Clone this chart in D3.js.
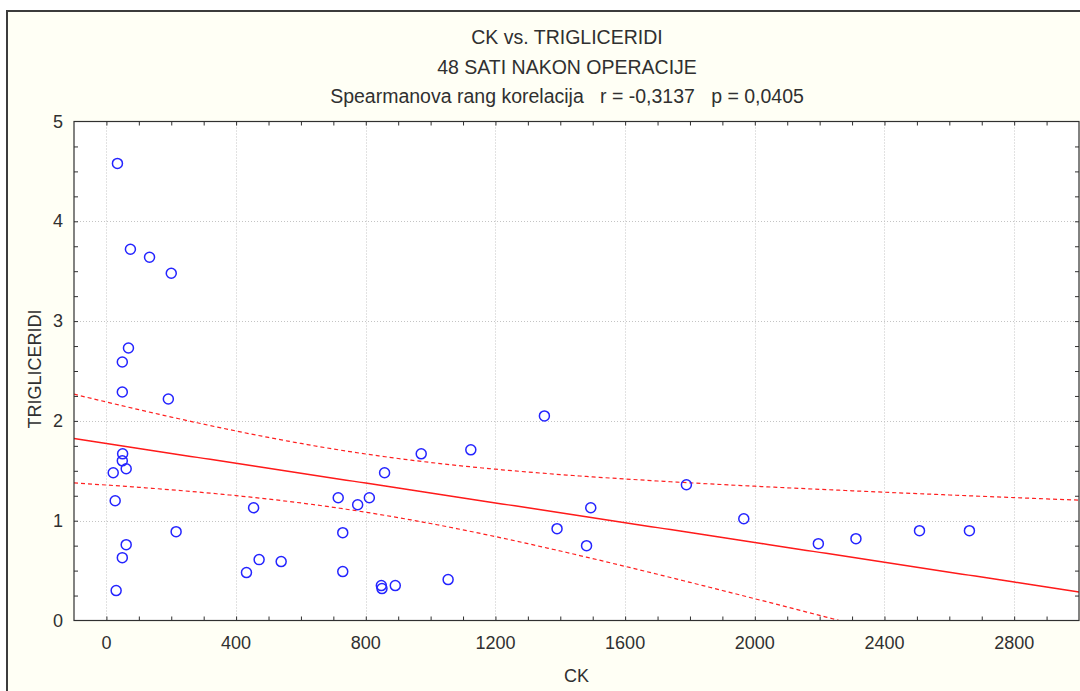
<!DOCTYPE html>
<html>
<head>
<meta charset="utf-8">
<script src="https://cdn.jsdelivr.net/npm/d3@7/dist/d3.min.js"></script>
<style>
  html, body { margin: 0; padding: 0; background: #ffffff; }
  svg text { font-family: "Liberation Sans", Arial, sans-serif; fill: #303030; }
  .title { white-space: pre; }
</style>
</head>
<body>
<svg id="chart" width="1080" height="691"></svg>
<script>
// Titles
const titleLines = [
  "CK vs. TRIGLICERIDI",
  "48 SATI NAKON OPERACIJE",
  "Spearmanova rang korelacija   r = -0,3137   p = 0,0405"
];
const xLabel = "CK";
const yLabel = "TRIGLICERIDI";

// Observations (CK, triglyceride level)
const ck = [
  34, 74, 133, 200, 68, 49, 49, 191, 50, 49, 61, 21, 27, 215, 61, 49, 30,
  454, 432, 471, 539,
  715, 775, 811, 858, 971, 1124, 1351, 729, 729, 848, 850, 891, 1054,
  1390, 1481, 1494, 1789,
  1966, 2196, 2312, 2508, 2662
];
const trig = [
  4.58, 3.72, 3.64, 3.48, 2.73, 2.59, 2.29, 2.22, 1.67, 1.60, 1.52, 1.48, 1.20, 0.89, 0.76, 0.63, 0.30,
  1.13, 0.48, 0.61, 0.59,
  1.23, 1.16, 1.23, 1.48, 1.67, 1.71, 2.05, 0.88, 0.49, 0.35, 0.32, 0.35, 0.41,
  0.92, 0.75, 1.13, 1.36,
  1.02, 0.77, 0.82, 0.90, 0.90
];

// Axis settings
const xDomain = [-100, 3000];
const yDomain = [0, 5];
const xTickValues = [0, 400, 800, 1200, 1600, 2000, 2400, 2800];
const yTickValues = [0, 1, 2, 3, 4, 5];
const xMinorStep = 100;
const yMinorStep = 0.25;
const tCrit = 2.0195; // Student t, 0.975, df = 41

const svg = d3.select("#chart");
const W = 1080, H = 691;
const plot = { left: 74, right: 1079, top: 121.5, bottom: 620.5 };

// Outer panel
svg.append("rect").attr("x", 0).attr("y", 0).attr("width", W).attr("height", H).attr("fill", "#ffffff");
svg.append("rect")
  .attr("x", 7).attr("y", 11).attr("width", W + 20).attr("height", H + 20)
  .attr("fill", "#fffff5").attr("stroke", "#3c3c3c").attr("stroke-width", 2);

const x = d3.scaleLinear().domain(xDomain).range([plot.left, plot.right]);
const y = d3.scaleLinear().domain(yDomain).range([plot.bottom, plot.top]);

// Plot area
svg.append("rect")
  .attr("x", plot.left).attr("y", plot.top)
  .attr("width", plot.right - plot.left).attr("height", plot.bottom - plot.top)
  .attr("fill", "#ffffff");

svg.append("clipPath").attr("id", "clip").append("rect")
  .attr("x", plot.left).attr("y", plot.top)
  .attr("width", plot.right - plot.left).attr("height", plot.bottom - plot.top);

// Dotted grid
const grid = svg.append("g").attr("stroke", "#c4c4c4").attr("stroke-width", 1).attr("stroke-dasharray", "1,2");
grid.selectAll(".gx").data(xTickValues).join("line")
  .attr("x1", d => Math.round(x(d)) + 0.5).attr("x2", d => Math.round(x(d)) + 0.5)
  .attr("y1", plot.top).attr("y2", plot.bottom);
grid.selectAll(".gy").data(yTickValues.filter(v => v > yDomain[0] && v < yDomain[1])).join("line")
  .attr("y1", d => Math.round(y(d)) + 0.5).attr("y2", d => Math.round(y(d)) + 0.5)
  .attr("x1", plot.left).attr("x2", plot.right);

// Ticks on all four sides, pointing inward
const xMinor = d3.range(0, xDomain[1] + 1, xMinorStep).filter(v => v > xDomain[0] && v < xDomain[1]);
const yMinor = d3.range(yDomain[0], yDomain[1] + 1e-9, yMinorStep).filter(v => v > yDomain[0] && v < yDomain[1]);
const tickLen = 4;

const xAxisBottom = d3.axisBottom(x).tickValues(xMinor).tickSize(-tickLen).tickFormat("");
const xAxisTop = d3.axisTop(x).tickValues(xMinor).tickSize(-tickLen).tickFormat("");
const yAxisLeft = d3.axisLeft(y).tickValues(yMinor).tickSize(-tickLen).tickFormat("");
const yAxisRight = d3.axisRight(y).tickValues(yMinor).tickSize(-tickLen).tickFormat("");

function styleAxis(g) {
  g.select(".domain").remove();
  g.selectAll(".tick line").attr("stroke", "#303030");
}
svg.append("g").attr("transform", `translate(0,${plot.bottom})`).call(xAxisBottom).call(styleAxis);
svg.append("g").attr("transform", `translate(0,${plot.top})`).call(xAxisTop).call(styleAxis);
svg.append("g").attr("transform", `translate(${plot.left},0)`).call(yAxisLeft).call(styleAxis);
svg.append("g").attr("transform", `translate(${plot.right},0)`).call(yAxisRight).call(styleAxis);

// Tick labels
svg.append("g").selectAll("text").data(xTickValues).join("text")
  .attr("x", d => x(d)).attr("y", plot.bottom + 28)
  .attr("text-anchor", "middle").attr("font-size", 18)
  .text(d => d);
svg.append("g").selectAll("text").data(yTickValues).join("text")
  .attr("x", plot.left - 11).attr("y", d => y(d) + 6)
  .attr("text-anchor", "end").attr("font-size", 18)
  .text(d => d);

// Regression with 95% confidence band
const n = ck.length;
const mx = d3.mean(ck), my = d3.mean(trig);
const sxx = d3.sum(ck, v => (v - mx) ** 2);
const sxy = d3.sum(ck.map((v, i) => (v - mx) * (trig[i] - my)));
const slope = sxy / sxx;
const icpt = my - slope * mx;
const sse = d3.sum(ck.map((v, i) => (trig[i] - (icpt + slope * v)) ** 2));
const se = Math.sqrt(sse / (n - 2));
const xs = d3.range(xDomain[0], xDomain[1] + 1, 20);
const fit = v => icpt + slope * v;
const half = v => tCrit * se * Math.sqrt(1 / n + (v - mx) ** 2 / sxx);

const lineGen = d3.line().x(d => x(d[0])).y(d => y(d[1]));
const fitG = svg.append("g").attr("clip-path", "url(#clip)").attr("fill", "none");
fitG.append("path")
  .attr("d", lineGen(xs.map(v => [v, fit(v)])))
  .attr("stroke", "#ff1a1a").attr("stroke-width", 1.5);
fitG.append("path")
  .attr("d", lineGen(xs.map(v => [v, fit(v) + half(v)])))
  .attr("stroke", "#ff2020").attr("stroke-width", 1.2).attr("stroke-dasharray", "4,3");
fitG.append("path")
  .attr("d", lineGen(xs.map(v => [v, fit(v) - half(v)])))
  .attr("stroke", "#ff2020").attr("stroke-width", 1.2).attr("stroke-dasharray", "4,3");

// Plot frame
svg.append("rect")
  .attr("x", plot.left).attr("y", plot.top)
  .attr("width", plot.right - plot.left).attr("height", plot.bottom - plot.top)
  .attr("fill", "none").attr("stroke", "#303030").attr("stroke-width", 1.2);

// Points
svg.append("g").selectAll("circle").data(ck.map((v, i) => [v, trig[i]])).join("circle")
  .attr("cx", d => x(d[0])).attr("cy", d => y(d[1])).attr("r", 5)
  .attr("fill", "none").attr("stroke", "#2424ff").attr("stroke-width", 1.5);

// Titles
svg.append("g").selectAll("text").data(titleLines).join("text")
  .attr("class", "title")
  .attr("x", 567).attr("y", (d, i) => 44 + i * 29.5)
  .attr("text-anchor", "middle").attr("font-size", 19.5)
  .text(d => d);

// Axis titles
svg.append("text").attr("x", (plot.left + plot.right) / 2).attr("y", 682)
  .attr("text-anchor", "middle").attr("font-size", 18).text(xLabel);
svg.append("text").attr("transform", `translate(41,${(plot.top + plot.bottom) / 2 - 2}) rotate(-90)`)
  .attr("text-anchor", "middle").attr("font-size", 18).text(yLabel);
</script>
</body>
</html>
